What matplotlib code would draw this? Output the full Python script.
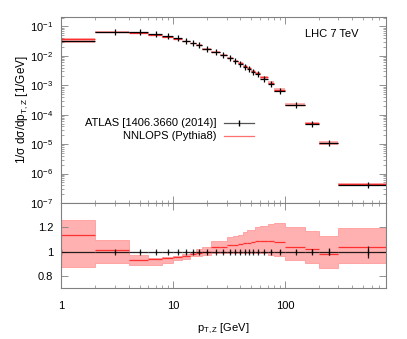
import matplotlib
matplotlib.use("Agg")
import matplotlib.pyplot as plt
import matplotlib.ticker as mticker
import numpy as np

plt.rcParams['font.family'] = ['Liberation Sans', 'DejaVu Sans']
plt.rcParams['mathtext.fontset'] = 'custom'
plt.rcParams['mathtext.rm'] = 'Liberation Sans'
plt.rcParams['mathtext.it'] = 'Liberation Sans:italic'

# bin edges of p_T,Z [GeV]
edges = [0, 2, 4, 6, 8, 10, 12, 14, 16, 18, 22, 26, 30, 34, 38, 42, 46, 50,
         54, 60, 70, 80, 100, 150, 200, 300, 800]

# ATLAS normalised cross section [1/GeV]
data = [0.032, 0.066, 0.065, 0.055, 0.046, 0.039, 0.033, 0.028, 0.024,
        0.0177, 0.0133, 0.0105, 0.0083, 0.0065, 0.0053, 0.0043, 0.0036,
        0.0029, 0.00245, 0.0017, 0.00114, 0.00063, 0.00021, 5.0e-5, 1.1e-5,
        4.1e-7]
data_relerr = [0.01, 0.008, 0.008, 0.008, 0.008, 0.008, 0.008, 0.008, 0.008,
               0.008, 0.008, 0.008, 0.008, 0.008, 0.008, 0.008, 0.008, 0.008,
               0.008, 0.008, 0.01, 0.01, 0.012, 0.02, 0.03, 0.05]

# NNLOPS / data ratio with uncertainty band
ratio = [1.134, 1.01, 0.932, 0.938, 0.946, 0.954, 0.965, 0.98, 0.99, 1.0,
         1.036, 1.04, 1.055, 1.055, 1.063, 1.068, 1.074, 1.08, 1.087, 1.087,
         1.087, 1.08, 1.04, 1.02, 0.98, 1.04]
ratio_up = [1.26, 1.095, 0.973, 0.95, 0.954, 0.96, 0.98, 1.0, 1.02, 1.035,
            1.087, 1.087, 1.12, 1.125, 1.136, 1.163, 1.18, 1.18, 1.2, 1.21,
            1.226, 1.237, 1.2, 1.17, 1.128, 1.19]
ratio_dn = [0.873, 0.905, 0.886, 0.89, 0.91, 0.93, 0.94, 0.96, 0.96, 0.975,
            0.987, 0.987, 0.985, 0.985, 0.985, 0.985, 0.985, 0.985, 0.985,
            0.985, 0.975, 0.965, 0.93, 0.905, 0.865, 0.91]

edges = np.array(edges, dtype=float)
data = np.array(data)
lo, hi = edges[:-1], edges[1:]
centers = 0.5 * (lo + hi)
halfw = 0.5 * np.diff(edges)
ratio = np.array(ratio)
mc = data * ratio
mc_up = data * np.array(ratio_up)
mc_dn = data * np.array(ratio_dn)

band_col = '#ffb0b0'
line_col = '#ff3030'
frame_col = '#808080'

fig = plt.figure(figsize=(4.07, 3.39), dpi=100)
ax = fig.add_axes([0.151, 0.4012, 0.797, 0.5488])
rax = fig.add_axes([0.151, 0.1504, 0.797, 0.2508], sharex=ax)

# main panel
ax.stairs(mc_up, edges, baseline=mc_dn, fill=True, color=band_col, lw=0)
ax.hlines(mc, lo, hi, color=line_col, lw=0.9)
ax.errorbar(centers, data, xerr=halfw, yerr=data * np.array(data_relerr),
            fmt='|', ms=4, color='k', elinewidth=0.9, mew=0.9)
ax.set_xscale('log')
ax.set_yscale('log')
ax.set_xlim(1, 800)
ax.set_ylim(1e-7, 0.21)
ax.set_ylabel('1/σ dσ/dp$_{\\mathrm{T,Z}}$ [1/GeV]', fontsize=8.5)
ax.yaxis.set_label_coords(-0.098, 0.5)
ax.yaxis.set_major_locator(mticker.LogLocator(base=10, numticks=20))
ax.yaxis.set_minor_locator(mticker.LogLocator(base=10, subs=np.arange(2, 10), numticks=20))
ax.yaxis.set_major_formatter(mticker.FuncFormatter(
    lambda v, p: '10$^{%d}$' % int(round(np.log10(v)))))
ax.yaxis.set_minor_formatter(mticker.NullFormatter())

ax.text(0.917, 0.907, 'LHC 7 TeV', transform=ax.transAxes, ha='right',
        va='center', fontsize=8)

# legend, text right aligned, sample on the right
ax.text(0.479, 0.432, 'ATLAS [1406.3660 (2014)]', transform=ax.transAxes,
        ha='right', va='center', fontsize=8)
ax.text(0.479, 0.36, 'NNLOPS (Pythia8)', transform=ax.transAxes,
        ha='right', va='center', fontsize=8)
ax.plot([0.50, 0.595], [0.432, 0.432], transform=ax.transAxes, color='#555555', lw=0.9)
ax.plot([0.5475], [0.432], transform=ax.transAxes, marker='|', ms=4, color='k')
ax.plot([0.50, 0.595], [0.36, 0.36], transform=ax.transAxes, color='#ff7070', lw=0.9)

# ratio panel
rax.stairs(ratio_up, edges, baseline=ratio_dn, fill=True, color=band_col,
           ec='#ff9090', lw=0.5)
rax.hlines(ratio, lo, hi, color=line_col, lw=0.9)
rax.errorbar(centers, np.ones_like(centers), xerr=halfw, yerr=data_relerr,
             fmt='|', ms=4, color='k', elinewidth=0.9, mew=0.9, alpha=0.85)
rax.set_ylim(0.7, 1.4)
rax.set_yticks([0.8, 1.0, 1.2], labels=['0.8', '1', '1.2'])
rax.set_xticks([1, 10, 100], labels=['1', '10', '100'])
rax.xaxis.set_minor_locator(mticker.LogLocator(base=10, subs=np.arange(2, 10), numticks=20))
rax.xaxis.set_minor_formatter(mticker.NullFormatter())
rax.set_xlabel('p$_{\\mathrm{T,Z}}$ [GeV]', fontsize=8, labelpad=8)

for a in (ax, rax):
    for s in a.spines.values():
        s.set_color(frame_col)
        s.set_linewidth(0.8)
    a.tick_params(which='both', direction='in', top=True, right=True,
                  color=frame_col, labelsize=8, pad=6)
    a.tick_params(which='major', length=5, width=0.6)
    a.tick_params(which='minor', length=2.5, width=0.5)
ax.tick_params(axis='x', which='both', labelbottom=False)
rax.tick_params(axis='x', pad=9)
ax.set_xlim(1, 800)

fig.savefig('out.png', dpi=100)
